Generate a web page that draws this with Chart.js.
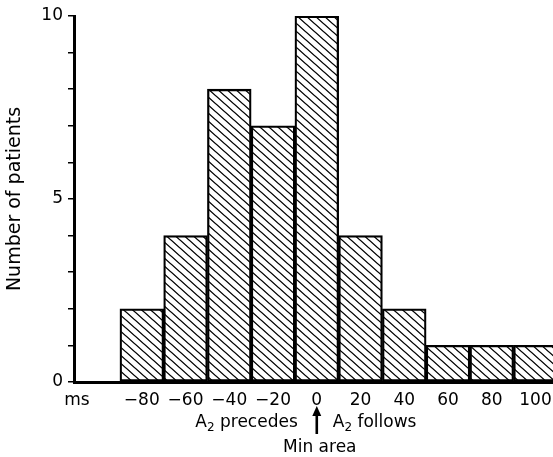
<!DOCTYPE html>
<html>
<head>
<meta charset="utf-8">
<script src="https://cdn.jsdelivr.net/npm/chart.js@4"></script>
<style>
  html, body { margin: 0; padding: 0; background: #fff; }
  #wrap { width: 553px; height: 457px; }
</style>
</head>
<body>
<div id="wrap"><canvas id="hist" width="553" height="457"></canvas></div>
<script>
// ---- data ----
const BIN_CENTERS = [-80, -60, -40, -20, 0, 20, 40, 60, 80, 100];   // ms
const PATIENTS    = [2, 4, 8, 7, 10, 4, 2, 1, 1, 1];
const X_TICKS     = [-80, -60, -40, -20, 0, 20, 40, 60, 80, 100];
const Y_TICKS     = [0, 5, 10];   // labelled; minor ticks every 1

const FONT = 'DejaVu Sans';

// hatch fill: "\\\\" lines, a bit shallower than 45deg
function hatch() {
  const w = 9, h = 8;
  const c = document.createElement('canvas');
  c.width = w; c.height = h;
  const g = c.getContext('2d');
  g.strokeStyle = '#000';
  g.lineWidth = 1.3;
  g.beginPath();
  for (const o of [-1, 0, 1]) { g.moveTo(o * w - w, -h); g.lineTo(o * w + 2 * w, 2 * h); }
  g.stroke();
  return g.createPattern(c, 'repeat');
}

// text with a subscript "2" after the A
function subText(ctx, parts, x, y, align) {
  const big = '17px ' + FONT, small = '12px ' + FONT;
  const widths = parts.map(p => { ctx.font = p.sub ? small : big; return ctx.measureText(p.t).width; });
  const total = widths.reduce((a, b) => a + b, 0);
  let cx = align === 'right' ? x - total : align === 'center' ? x - total / 2 : x;
  ctx.textAlign = 'left';
  ctx.textBaseline = 'alphabetic';
  parts.forEach((p, i) => {
    ctx.font = p.sub ? small : big;
    ctx.fillText(p.t, cx, p.sub ? y + 4 : y);
    cx += widths[i];
  });
}

const notes = {
  id: 'notes',
  afterDraw(chart) {
    const ctx = chart.ctx;
    const x0 = chart.scales.x.getPixelForValue(0);
    const left = chart.chartArea.left;
    ctx.save();
    ctx.fillStyle = '#000';
    ctx.strokeStyle = '#000';
    // unit label
    ctx.font = '17px ' + FONT;
    ctx.textAlign = 'center';
    ctx.textBaseline = 'alphabetic';
    ctx.fillText('ms', left + 3, 405);
    // direction labels
    subText(ctx, [{t: 'A'}, {t: '2', sub: true}, {t: ' precedes'}], x0 - 19, 427, 'right');
    subText(ctx, [{t: 'A'}, {t: '2', sub: true}, {t: ' follows'}], x0 + 16, 427, 'left');
    subText(ctx, [{t: 'Min area'}], x0 + 3, 452, 'center');
    // arrow
    ctx.lineWidth = 2.6;
    ctx.beginPath(); ctx.moveTo(x0, 434); ctx.lineTo(x0, 414); ctx.stroke();
    ctx.beginPath();
    ctx.moveTo(x0, 406); ctx.lineTo(x0 - 4.5, 416); ctx.lineTo(x0 + 4.5, 416); ctx.closePath();
    ctx.fill();
    ctx.restore();
  }
};

new Chart(document.getElementById('hist'), {
  type: 'bar',
  data: {
    datasets: [{
      data: BIN_CENTERS.map((x, i) => ({ x, y: PATIENTS[i] })),
      backgroundColor: hatch(),
      borderColor: '#000',
      borderWidth: 1.6,
      borderSkipped: false,
      barPercentage: 1,
      categoryPercentage: 1
    }]
  },
  options: {
    responsive: false,
    animation: false,
    layout: { padding: { top: 16, right: 0, left: 0, bottom: 0 } },
    plugins: { legend: { display: false }, tooltip: { enabled: false } },
    scales: {
      x: {
        type: 'linear',
        offset: false,
        min: -111,
        max: 108,
        border: { display: true, color: '#000', width: 3 },
        grid: { display: true, drawOnChartArea: false, drawTicks: false },
        ticks: {
          stepSize: 20,
          includeBounds: false,
          autoSkip: false,
          maxRotation: 0,
          padding: 8,
          color: '#000',
          font: { family: FONT, size: 17 },
          callback: v => X_TICKS.includes(v) ? (v < 0 ? '\u2212' + Math.abs(v) : String(v)) : ''
        },
        afterFit: s => { s.height = 75; s.paddingLeft = 0; s.paddingRight = 0; }
      },
      y: {
        min: 0,
        max: 10,
        border: { display: true, color: '#000', width: 3 },
        grid: { display: true, drawOnChartArea: false, drawTicks: true, tickLength: 6, color: '#000', lineWidth: 1.5 },
        ticks: {
          stepSize: 1,
          autoSkip: false,
          padding: 5,
          color: '#000',
          font: { family: FONT, size: 17 },
          callback: v => Y_TICKS.includes(v) ? String(v) : ''
        },
        title: {
          display: true,
          text: 'Number of patients',
          color: '#000',
          font: { family: FONT, size: 19 },
          padding: { top: 4, bottom: 0 }
        },
        afterFit: s => { s.width = 74; }
      }
    }
  },
  plugins: [notes]
});
</script>
</body>
</html>
